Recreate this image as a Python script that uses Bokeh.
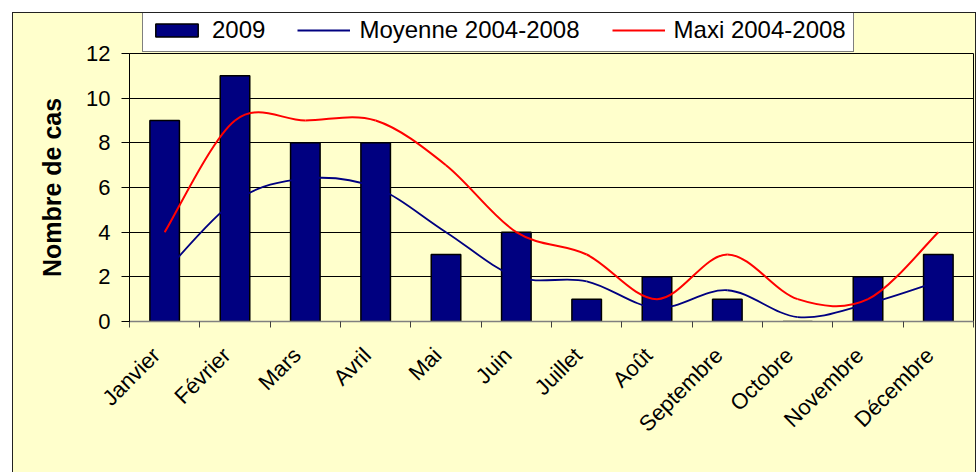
import numpy as np
from math import pi
from bokeh.plotting import figure
from bokeh.layouts import column
from bokeh.models import (FixedTicker, Legend, LegendItem, Range1d,
                          ColumnDataSource, CustomJSTickFormatter)
from bokeh.embed import file_html
from bokeh.resources import INLINE

# ---- data -------------------------------------------------------------
months = ["Janvier", "Février", "Mars", "Avril", "Mai", "Juin", "Juillet",
          "Août", "Septembre", "Octobre", "Novembre", "Décembre"]
cases_2009 = [9, 11, 8, 8, 3, 4, 1, 2, 1, 0, 2, 3]
moyenne_2004_2008 = [2.2, 5.4, 6.4, 6.0, 4.0, 2.0, 1.8, 0.6, 1.4, 0.2, 0.8, 1.8]
maxi_2004_2008 = [4, 9, 9, 9, 7, 4, 3, 1, 3, 1, 1, 4]
y_ticks = [0, 2, 4, 6, 8, 10, 12]
series_labels = ["2009", "Moyenne 2004-2008", "Maxi 2004-2008"]

FONT = "Liberation Sans"
YELLOW = "#FFFFCC"
NAVY = "#000080"
RED = "#FF0000"

n = len(months)
centers = [i + 0.5 for i in range(n)]
bounds = list(range(n + 1))
label_ticks = [c - 0.12 for c in centers]   # rotated labels end just left of centre


def smooth_source(vals):
    """Excel-like smoothed line: cubic Bezier segments through the data points."""
    xs = np.array(centers, float)
    ys = np.array(vals, float)
    m = len(ys)
    d = dict(x0=[], y0=[], x1=[], y1=[], cx0=[], cy0=[], cx1=[], cy1=[])
    for i in range(m - 1):
        ip = max(i - 1, 0)
        inn = min(i + 2, m - 1)
        d["x0"].append(xs[i]); d["y0"].append(ys[i])
        d["x1"].append(xs[i + 1]); d["y1"].append(ys[i + 1])
        d["cx0"].append(xs[i] + (xs[i + 1] - xs[ip]) / 6)
        d["cy0"].append(ys[i] + (ys[i + 1] - ys[ip]) / 6)
        d["cx1"].append(xs[i + 1] - (xs[inn] - xs[i]) / 6)
        d["cy1"].append(ys[i + 1] - (ys[inn] - ys[i]) / 6)
    return ColumnDataSource(d)


# ---- legend strip (above the plot area) --------------------------------
top = figure(width=962, height=40, output_backend="svg", toolbar_location=None,
             x_range=Range1d(0, n), y_range=Range1d(0, 12),
             x_axis_type=None, y_axis_type=None,
             min_border_left=0, min_border_right=0, min_border_top=0,
             min_border_bottom=0)
top.background_fill_alpha = 0
top.border_fill_alpha = 0
top.outline_line_color = None
top.grid.visible = False

# hidden copies of the series, used only to draw the legend swatches
lg_bar = top.vbar(x=centers, top=cases_2009, width=0.42, fill_color=NAVY,
                  line_color="black", line_width=1.5, visible=False)
lg_blue = top.line(x=centers, y=moyenne_2004_2008, line_color=NAVY,
                   line_width=1.8, visible=False)
lg_red = top.line(x=centers, y=maxi_2004_2008, line_color=RED,
                  line_width=2, visible=False)

legend = Legend(items=[LegendItem(label=series_labels[0], renderers=[lg_bar]),
                       LegendItem(label=series_labels[1], renderers=[lg_blue]),
                       LegendItem(label=series_labels[2], renderers=[lg_red])],
                orientation="horizontal", location=(13, 1),
                border_line_color="black", border_line_width=1.5,
                background_fill_color="white", background_fill_alpha=1,
                inactive_fill_alpha=0,
                label_text_font=FONT, label_text_font_size="24px",
                label_text_color="black",
                glyph_width=53, glyph_height=16, label_standoff=9,
                spacing=32, padding=7, margin=0)
top.add_layout(legend)

# ---- main chart --------------------------------------------------------
p = figure(width=962, height=431, output_backend="svg", toolbar_location=None,
           x_range=Range1d(0, n), y_range=Range1d(0, 12),
           min_border_left=116, min_border_right=2, min_border_top=12,
           min_border_bottom=151)
p.styles = {"margin-top": "-12px"}

p.background_fill_color = YELLOW
p.border_fill_alpha = 0
p.outline_line_color = "black"
p.outline_line_width = 1

p.xgrid.visible = False
p.ygrid.ticker = FixedTicker(ticks=y_ticks)
p.ygrid.grid_line_color = "black"
p.ygrid.grid_line_width = 1

p.yaxis.ticker = FixedTicker(ticks=y_ticks)
p.yaxis.axis_line_color = "black"
p.yaxis.major_tick_out = 8
p.yaxis.major_tick_in = 0
p.yaxis.major_tick_line_color = "black"
p.yaxis.minor_tick_line_color = None
p.yaxis.major_label_text_font = FONT
p.yaxis.major_label_text_font_size = "22px"
p.yaxis.major_label_text_color = "black"
p.yaxis.major_label_standoff = 11
p.yaxis.axis_label = "Nombre de cas"
p.yaxis.axis_label_text_font = FONT
p.yaxis.axis_label_text_font_style = "bold"
p.yaxis.axis_label_text_font_size = "25px"
p.yaxis.axis_label_text_color = "black"
p.yaxis.axis_label_standoff = 17

p.xaxis.ticker = FixedTicker(ticks=label_ticks, minor_ticks=bounds)
p.xaxis.formatter = CustomJSTickFormatter(args=dict(names=months),
                                          code="return names[Math.floor(tick)]")
p.xaxis.axis_line_color = "#808080"
p.xaxis.axis_line_width = 1.5
p.xaxis.major_tick_line_color = None
p.xaxis.major_tick_out = 0
p.xaxis.major_tick_in = 0
p.xaxis.minor_tick_line_color = "#404040"
p.xaxis.minor_tick_out = 6
p.xaxis.minor_tick_in = 0
p.xaxis.major_label_orientation = pi / 4
p.xaxis.major_label_text_font = FONT
p.xaxis.major_label_text_font_size = "22px"
p.xaxis.major_label_text_color = "black"
p.xaxis.major_label_standoff = 24

p.vbar(x=centers, top=cases_2009, width=0.42, fill_color=NAVY,
       line_color="black", line_width=1.5)

p.bezier(x0="x0", y0="y0", x1="x1", y1="y1", cx0="cx0", cy0="cy0",
         cx1="cx1", cy1="cy1", source=smooth_source(moyenne_2004_2008),
         line_color=NAVY, line_width=1.8)
p.bezier(x0="x0", y0="y0", x1="x1", y1="y1", cx0="cx0", cy0="cy0",
         cx1="cx1", cy1="cy1", source=smooth_source(maxi_2004_2008),
         line_color=RED, line_width=2)

layout = column(top, p, spacing=0)
layout.styles = {"margin-left": "12px", "margin-top": "12px",
                 "background-color": YELLOW,
                 "border-left": "1px solid #222", "border-top": "1px solid #222",
                 "border-right": "1px solid #222"}

open("out.html", "w").write(file_html(layout, INLINE))
